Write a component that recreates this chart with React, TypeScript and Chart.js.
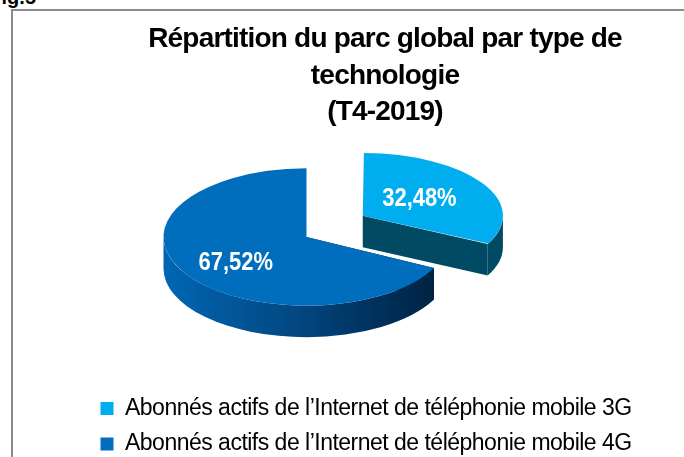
import React, { useEffect, useRef } from "react";
import { Chart, registerables } from "chart.js";

Chart.register(...registerables);

const categories = [
  "Abonnés actifs de l’Internet de téléphonie mobile 3G",
  "Abonnés actifs de l’Internet de téléphonie mobile 4G",
];
const shares = [32.48, 67.52];
const titleLines = ["Répartition du parc global par type de", "technologie", "(T4-2019)"];
const topColors = ["#00aeef", "#006dbd"];
const sliceOffsets = [264, 0];
const sliceSquash = [0.93, 1];

const CW = 744;
const CH = 446;
const SQUASH = 0.48;
const DEPTH = 31.5;
const PIE_X = 293.5;
const PIE_Y = 226;

function pieTransform(chart: any, ctx: CanvasRenderingContext2D) {
  const a = chart.chartArea;
  const cx = (a.left + a.right) / 2;
  const cy = (a.top + a.bottom) / 2;
  ctx.translate(PIE_X, PIE_Y);
  ctx.scale(1, SQUASH);
  ctx.translate(-cx, -cy);
}

function apex(arc: any, i: number) {
  const mid = (arc.startAngle + arc.endAngle) / 2;
  const off = sliceOffsets[i] / 4;
  const fix = 1 - Math.sin(Math.min(Math.PI, arc.circumference));
  return {
    x: arc.x + Math.cos(mid) * off,
    y: arc.y + Math.sin(mid) * off,
    mid,
    r: arc.outerRadius + off * fix,
  };
}

const pie3d = {
  id: "pie3d",
  afterDatasetUpdate(chart: any) {
    // the detached slice sits a little higher and looks smaller, being further back
    const arcs = chart.getDatasetMeta(0).data;
    const arc = arcs[0];
    arc.y -= 10;
    arc.outerRadius = 133;
    const draw = arc.draw.bind(arc);
    arc.draw = (ctx: CanvasRenderingContext2D, area: any) => {
      const p = apex(arc, 0);
      ctx.save();
      ctx.translate(p.x, p.y);
      ctx.scale(1, sliceSquash[0]);
      ctx.translate(-p.x, -p.y);
      draw(ctx, area);
      ctx.restore();
    };
  },
  beforeDraw(chart: any) {
    const lg = chart.legend;
    lg.left = 75;
    lg.top = 373.5;
    // the reference's text is tall and tight: same widths, larger glyphs
    chart.options.plugins.title && ((chart.ctx as any).letterSpacing = "0px");
  },
  beforeElementsDraw() {},
  beforeDatasetsDraw(chart: any) {
    const ctx: CanvasRenderingContext2D = chart.ctx;
    const arcs = chart.getDatasetMeta(0).data;
    ctx.save();
    pieTransform(chart, ctx);
    arcs.forEach((arc: any, i: number) => {
      const { startAngle, endAngle } = arc;
      const { x, y, r } = apex(arc, i);
      const k = sliceSquash[i];
      const d = DEPTH / SQUASH / k;
      const flat = "#004a63";
      const cut = i === 0 ? flat : "#00305a";
      ctx.save();
      ctx.translate(x, y);
      ctx.scale(1, k);
      ctx.translate(-x, -y);
      [startAngle, endAngle].forEach((ang: number) => {
        ctx.beginPath();
        ctx.moveTo(x, y);
        ctx.lineTo(x + r * Math.cos(ang), y + r * Math.sin(ang));
        ctx.lineTo(x + r * Math.cos(ang), y + d + r * Math.sin(ang));
        ctx.lineTo(x, y + d);
        ctx.closePath();
        ctx.fillStyle = cut;
        ctx.fill();
      });
      const a0 = Math.max(startAngle, 0);
      const a1 = Math.min(endAngle, Math.PI);
      if (a1 > a0) {
        ctx.beginPath();
        ctx.arc(x, y, r, a0, a1);
        ctx.arc(x, y + d, r, a1, a0, true);
        ctx.closePath();
        if (i === 0) {
          ctx.fillStyle = flat;
        } else {
          const g = ctx.createLinearGradient(x - r, 0, x + r * Math.cos(a0), 0);
          g.addColorStop(0, "#0066b3");
          g.addColorStop(0.45, "#024a85");
          g.addColorStop(0.8, "#00305a");
          g.addColorStop(1, "#002343");
          ctx.fillStyle = g;
        }
        ctx.fill();
      }
      ctx.restore();
    });
    // leave the transform on, so the library's own arcs are drawn squashed
  },
  afterDatasetsDraw(chart: any) {
    const ctx: CanvasRenderingContext2D = chart.ctx;
    ctx.restore();
    const arcs = chart.getDatasetMeta(0).data;
    const a = chart.chartArea;
    const cx = (a.left + a.right) / 2;
    const cy = (a.top + a.bottom) / 2;
    arcs.forEach((arc: any, i: number) => {
      const { x, y, mid } = apex(arc, i);
      const f = i === 0 ? 0.5 : 0.58;
      const px = x + f * arc.outerRadius * Math.cos(mid);
      const py = y + f * arc.outerRadius * Math.sin(mid);
      const sx = PIE_X + (px - cx);
      const sy = PIE_Y + (py - cy) * SQUASH + (i === 0 ? 0 : 5);
      ctx.save();
      ctx.translate(sx, sy);
      ctx.scale(0.86, 1);
      ctx.font = "bold 25.5px 'Liberation Sans'";
      ctx.fillStyle = "#ffffff";
      ctx.textAlign = "center";
      ctx.textBaseline = "middle";
      ctx.fillText(shares[i].toFixed(2).replace(".", ",") + "%", 0, 0);
      ctx.restore();
    });
  },
};

// Tightens the library's own title and legend text: the title is drawn first, then the legend.
const tightText = {
  id: "tightText",
  beforeDraw(chart: any) {
    const ctx: any = chart.ctx;
    const title = chart.titleBlock;
    const legend = chart.legend;
    const titleDraw = title.draw.bind(title);
    const legendDraw = legend.draw.bind(legend);
    if (!title.__tight) {
      title.__tight = true;
      title.draw = () => {
        ctx.letterSpacing = "-0.8px";
        titleDraw();
        ctx.letterSpacing = "0px";
      };
      legend.draw = () => {
        ctx.letterSpacing = "-0.51px";
        legendDraw();
        ctx.letterSpacing = "0px";
      };
    }
  },
};

export default function App() {
  const ref = useRef<HTMLCanvasElement>(null);
  useEffect(() => {
    const chart = new Chart(ref.current as HTMLCanvasElement, {
      type: "pie",
      data: {
        labels: categories,
        datasets: [
          {
            data: shares,
            backgroundColor: topColors,
            borderWidth: 0,
            offset: sliceOffsets,
            hoverOffset: 0,
            radius: 143,
            clip: false,
          } as any,
        ],
      },
      options: {
        responsive: false,
        animation: false,
        events: [],
        cutout: "0%",
        plugins: {
          title: {
            display: true,
            text: titleLines,
            color: "#000000",
            font: { family: "'Liberation Sans'", size: 28, weight: "bold", lineHeight: 1.306 },
            padding: { top: 10, bottom: 2 },
          },
          legend: {
            display: true,
            position: "bottom",
            align: "start",
            labels: {
              color: "#000000",
              font: { family: "'Liberation Sans'", size: 23 },
              boxWidth: 13,
              boxHeight: 13,
              padding: 12.5,
            },
          },
          tooltip: { enabled: false },
        },
      },
      plugins: [pie3d, tightText],
    } as any);
    chart.draw();
    return () => chart.destroy();
  }, []);
  return (
    <div style={{ position: "fixed", left: 0, top: 0, width: 684, height: 457, overflow: "hidden", background: "#fff" }}>
      <div
        style={{
          position: "absolute",
          right: 648,
          top: -14,
          font: "bold 20px 'Liberation Sans'",
          color: "#000",
          whiteSpace: "nowrap",
        }}
      >
        Fig.5
      </div>
      <div
        style={{
          position: "absolute",
          left: 11,
          top: 9,
          width: 800,
          height: 600,
          border: "2px solid #8c8c8c",
          boxSizing: "border-box",
        }}
      />
      <canvas
        ref={ref}
        width={CW}
        height={CH}
        style={{ position: "absolute", left: 13, top: 11, width: CW, height: CH, display: "block" }}
      />
    </div>
  );
}
